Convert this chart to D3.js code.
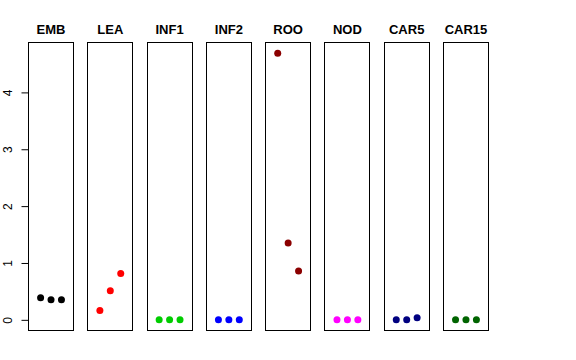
<!DOCTYPE html>
<html>
<head>
<meta charset="utf-8">
<script src="https://cdn.jsdelivr.net/npm/d3@7"></script>
<style>
  body { margin: 0; background: #fff; }
  svg { font-family: "Liberation Sans", Arial, Helvetica, sans-serif; }
</style>
</head>
<body>
<div id="chart"></div>
<script>
// tissues, one panel each
const tissues = ['EMB', 'LEA', 'INF1', 'INF2', 'ROO', 'NOD', 'CAR5', 'CAR15'];
const colors = ['#000000', '#ff0000', '#00cd00', '#0000ff', '#8b0000', '#ff00ff', '#000080', '#006400'];

// three replicates per tissue
const values = [
  [0.39, 0.355, 0.355],
  [0.165, 0.51, 0.815],
  [0, 0, 0],
  [0, 0, 0],
  [4.69, 1.35, 0.857],
  [0, 0, 0],
  [0, 0, 0.035],
  [0, 0, 0]
];
const replicates = [1, 2, 3];
const yTicks = [0, 1, 2, 3, 4];

const width = 576, height = 360;
const margin = {top: 42.5, bottom: 330.5, left: 28.5, right: 488.5};

const svg = d3.select('#chart').append('svg')
  .attr('width', width)
  .attr('height', height)
  .attr('viewBox', [0, 0, width, height]);

// R style axis range: data range padded by 4%
const all = values.flat();
const lo = Math.min(0, d3.min(all)), hi = d3.max(all);
const pad = (hi - lo) * 0.04;

const y = d3.scaleLinear()
  .domain([lo - pad, hi + pad])
  .range([margin.bottom, margin.top]);

const panel = d3.scaleBand()
  .domain(tissues)
  .range([margin.left, margin.right])
  .paddingInner(0.24)
  .paddingOuter(0);

const x = d3.scaleLinear()
  .domain([-0.16, 4.16])
  .range([0, panel.bandwidth()]);

const snap = v => Math.floor(v) + 0.5;

tissues.forEach((t, i) => {
  const x0 = snap(panel(t));
  const x1 = snap(panel(t) + panel.bandwidth());
  const g = svg.append('g');

  g.append('rect')
    .attr('x', x0)
    .attr('y', margin.top)
    .attr('width', x1 - x0)
    .attr('height', margin.bottom - margin.top)
    .attr('fill', 'none')
    .attr('stroke', '#000')
    .attr('stroke-width', 1);

  g.append('text')
    .attr('x', panel(t) + panel.bandwidth() / 2)
    .attr('y', 34)
    .attr('text-anchor', 'middle')
    .style('font-size', '13px')
    .style('font-weight', 'bold')
    .text(t);

  g.selectAll('circle')
    .data(values[i])
    .enter().append('circle')
    .attr('cx', (d, j) => panel(t) + x(replicates[j]))
    .attr('cy', d => y(d))
    .attr('r', 3.5)
    .attr('fill', colors[i]);
});

// y axis on the first panel
const axis = svg.append('g')
  .attr('transform', `translate(${margin.left},0)`)
  .call(d3.axisLeft(y).tickValues(yTicks).tickFormat(d3.format('d')).tickSize(7).tickSizeOuter(0));

axis.select('.domain').remove();
axis.selectAll('.tick line').attr('stroke', '#000');
axis.selectAll('.tick text')
  .attr('transform', 'rotate(-90)')
  .attr('x', 0)
  .attr('y', -17)
  .attr('dy', 0)
  .attr('text-anchor', 'middle')
  .attr('fill', '#000')
  .style('font-size', '12px')
  .style('font-family', '"Liberation Sans", Arial, Helvetica, sans-serif');
</script>
</body>
</html>
